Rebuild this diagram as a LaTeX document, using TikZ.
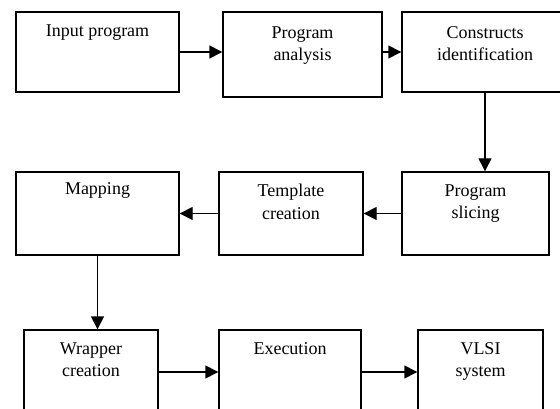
\documentclass[tikz,border=0pt]{standalone}
\usepackage{fontspec}
\setmainfont{Liberation Serif}
\usetikzlibrary{arrows.meta,positioning}

\tikzset{
    box/.style={draw=black, line width=1.4pt, inner sep=0pt},
    lbl/.style={inner sep=0pt, align=center, font=\fontsize{18}{22.5}\selectfont},
    flow/.style={-{Triangle[length=13pt,width=13pt]}, line width=1.4pt}
}

\begin{document}
\begin{tikzpicture}[x=1pt,y=-1pt]
    \clip (0,0) rectangle (560,409);
    \fill[white] (0,0) rectangle (560,409);
    % first row
    \node[box, minimum width=163pt, minimum height=80pt] at (97.5,52) (input) {};
    \node[box, minimum width=159pt, minimum height=85pt] at (302.5,54.5) (analysis) {};
    \node[box, minimum width=166pt, minimum height=80pt] at (485,52) (constructs) {};
    \node[lbl, below=13pt of input.north] (inputtxt) {Input program};
    \node[lbl, below=15pt of analysis.north] (analysistxt) {Program\\analysis};
    \node[lbl, below=15pt of constructs.north] (constructstxt) {Constructs\\identification};
    % second row
    \node[box, minimum width=163pt, minimum height=83pt] at (97.5,213.5) (mapping) {};
    \node[box, minimum width=144pt, minimum height=83pt] at (291,213.5) (template) {};
    \node[box, minimum width=147pt, minimum height=83pt] at (475.5,213.5) (slicing) {};
    \node[lbl, below=11pt of mapping.north] (mappingtxt) {Mapping};
    \node[lbl, below=13pt of template.north] (templatetxt) {Template\\creation};
    \node[lbl, below=13pt of slicing.north] (slicingtxt) {Program\\slicing};
    % third row
    \node[box, minimum width=134pt, minimum height=84pt] at (91,372) (wrapper) {};
    \node[box, minimum width=142pt, minimum height=84pt] at (290,372) (execution) {};
    \node[box, minimum width=125pt, minimum height=84pt] at (480.5,372) (vlsi) {};
    \node[lbl, below=13pt of wrapper.north] (wrappertxt) {Wrapper\\creation};
    \node[lbl, below=13pt of execution.north] (executiontxt) {Execution};
    \node[lbl, below=13pt of vlsi.north] (vlsitxt) {VLSI\\system};

    \draw[flow] (input.east) -- (input.east -| analysis.west);
    \draw[flow] (analysis.east |- constructs.west) -- (constructs.west);
    \draw[flow] (constructs.south) -- (constructs.south |- slicing.north);
    \draw[flow] (slicing.west) -- (template.east);
    \draw[flow] (template.west) -- (mapping.east);
    \draw[flow] (mapping.south) -- (mapping.south |- wrapper.north);
    \draw[flow] (wrapper.east) -- (execution.west);
    \draw[flow] (execution.east) -- (vlsi.west);
\end{tikzpicture}
\end{document}
